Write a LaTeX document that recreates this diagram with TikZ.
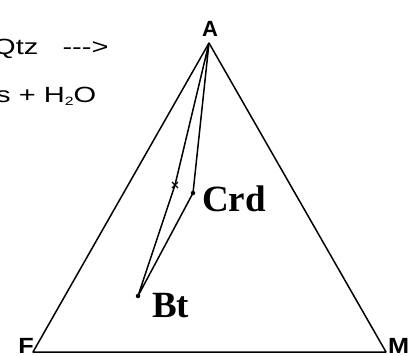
\documentclass[tikz,border=0pt]{standalone}
\usepackage{fontspec}
\setmainfont{Liberation Serif}
\newfontfamily\arialfont{Liberation Sans}
\begin{document}
\begin{tikzpicture}[x=1pt,y=-1pt,
  edge/.style={line width=1.5pt, line join=round},
  dotmark/.style={circle, fill=black, inner sep=0pt, minimum size=4.5pt},
  vlabel/.style={inner sep=0pt, font=\arialfont\bfseries\fontsize{22}{24}\selectfont},
  mlabel/.style={inner sep=0pt, anchor=base west, font=\bfseries\fontsize{37}{40}\selectfont},
  eqtext/.style={inner sep=0pt, anchor=base west, font=\arialfont\fontsize{22}{26}\selectfont}]
\useasboundingbox (0,0) rectangle (413,356);
\coordinate (A) at (209,43);
\coordinate (F) at (33,352);
\coordinate (M) at (386,352);
\coordinate (X) at (175,185);
\node[dotmark] (Crd) at (193,193) {};
\node[dotmark] (Bt) at (138,296) {};
\draw[edge] (F) -- (A) -- (M) -- cycle;
\draw[edge] (A) -- (X) -- (Bt.center) -- (Crd.center) -- (A);
\draw[line width=1.1pt] (X) ++(-3,-3) -- ++(6,6) (X) ++(-3,3) -- ++(6,-6);
\node[vlabel, anchor=base] (lA) at (210,36) {A};
\node[vlabel, anchor=base east] (lF) at (34,353) {\scalebox{1.15}[1]{F}};
\node[vlabel, anchor=base west] (lM) at (388,353) {\scalebox{1.15}[1]{M}};
\node[mlabel] (lCrd) at (202,211) {Crd};
\node[mlabel] (lBt) at (152,317) {Bt};
\node[eqtext] (t1) at (-7,54) {\scalebox{1.32}[1]{Qtz\ \ \ --->}};
\node[eqtext] (t2) at (-4,102) {\scalebox{1.32}[1]{s + H{\fontsize{12}{12}\selectfont\raisebox{-3pt}{2}}O}};
\end{tikzpicture}
\end{document}
